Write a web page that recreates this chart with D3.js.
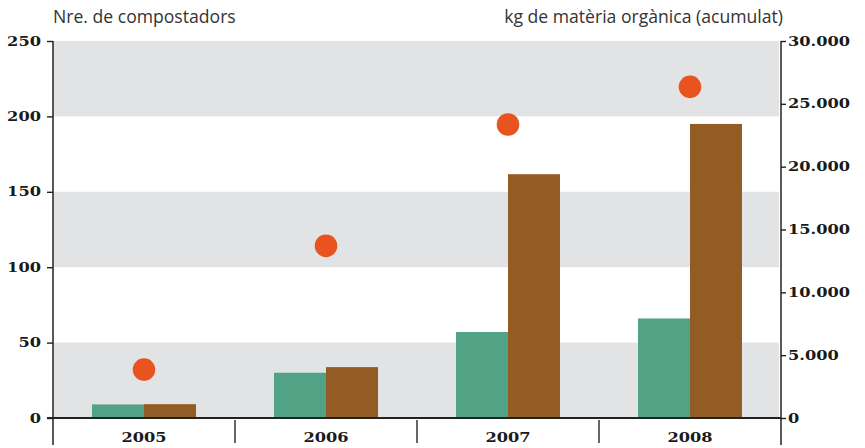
<!DOCTYPE html>
<html>
<head>
<meta charset="utf-8">
<script src="https://cdn.jsdelivr.net/npm/d3@7"></script>
<style>
  body { margin: 0; background: #fff; }
  .title { font-family: "Open Sans", sans-serif; font-size: 17.6px; fill: #333; }
  .num { font-family: "DejaVu Serif", serif; font-weight: bold; fill: #1a1a1a; }
</style>
</head>
<body>
<div id="chart"></div>
<script>
// chart data
var years = ["2005", "2006", "2007", "2008"];
var compostadors = [9, 30, 57, 66];          // left axis, green bars
var kgMateria = [1100, 4050, 19400, 23400];  // right axis, brown bars
var kgAcumulat = [3850, 13700, 23350, 26350]; // right axis, orange dots
var leftTicks = [0, 50, 100, 150, 200, 250];
var rightTicks = [0, 5000, 10000, 15000, 20000, 25000, 30000];

var width = 865,
  height = 448;

var left = 53,
  right = 781,
  topY = 41,
  base = 418;

var svg = d3
  .select("#chart")
  .append("svg")
  .attr("width", width)
  .attr("height", height);

var x = d3.scaleBand().domain(years).range([left, right]);
var inner = d3.scaleBand().domain(["g", "b"]).range([-52, 52]);
var yL = d3.scaleLinear().domain([0, 250]).range([base, topY]);
var yR = d3.scaleLinear().domain([0, 30000]).range([base, topY]);

var fmt = d3
  .formatLocale({ decimal: ",", thousands: ".", grouping: [3], currency: ["", ""] })
  .format(",");

//grey bands every other 50
svg
  .selectAll("rect.band")
  .data(leftTicks.filter(function(t, i) { return i % 2 == 0 && t < 250; }))
  .enter()
  .append("rect")
  .attr("class", "band")
  .attr("x", left)
  .attr("width", right - left - 2)
  .attr("y", function(t) { return yL(t + 50); })
  .attr("height", function(t) { return yL(t) - yL(t + 50); })
  .attr("fill", "#e2e3e5");

//bars
var cx = function(i) { return x(years[i]) + x.bandwidth() / 2; };

svg
  .selectAll("rect.green")
  .data(compostadors)
  .enter()
  .append("rect")
  .attr("x", function(d, i) { return cx(i) + inner("g"); })
  .attr("width", inner.bandwidth())
  .attr("y", function(d) { return yL(d); })
  .attr("height", function(d) { return base - yL(d); })
  .attr("fill", "#52a386");

svg
  .selectAll("rect.brown")
  .data(kgMateria)
  .enter()
  .append("rect")
  .attr("x", function(d, i) { return cx(i) + inner("b"); })
  .attr("width", inner.bandwidth())
  .attr("y", function(d) { return yR(d); })
  .attr("height", function(d) { return base - yR(d); })
  .attr("fill", "#935c24");

svg
  .selectAll("circle.dot")
  .data(kgAcumulat)
  .enter()
  .append("circle")
  .attr("cx", function(d, i) { return cx(i); })
  .attr("cy", function(d) { return yR(d); })
  .attr("r", 11.3)
  .attr("fill", "#e8531f");

//axes
var axisL = svg
  .append("g")
  .attr("transform", "translate(" + left + ",0)")
  .call(d3.axisLeft(yL).tickValues(leftTicks).tickSize(6).tickPadding(6));

var axisR = svg
  .append("g")
  .attr("transform", "translate(" + right + ",0)")
  .call(d3.axisRight(yR).tickValues(rightTicks).tickSize(5).tickFormat(fmt).tickPadding(2));

[axisL, axisR].forEach(function(a) {
  a.select(".domain").remove();
  a.selectAll("line").attr("stroke", "#222").attr("stroke-width", 1.4);
  a.selectAll("text").attr("class", "num").style("font-size", "12.5px").attr("font-family", null);
});

//stretch the labels, the original font is very wide
[axisL, axisR].forEach(function(a) {
  a.selectAll("text").each(function() {
    var t = d3.select(this);
    var tx = +t.attr("x");
    t.attr("x", tx / 1.3).attr("transform", "scale(1.3,1)");
  });
});

//axis lines
svg.append("line")
  .attr("x1", left).attr("x2", left)
  .attr("y1", topY).attr("y2", 445)
  .attr("stroke", "#222").attr("stroke-width", 1.5);
svg.append("line")
  .attr("x1", right).attr("x2", right)
  .attr("y1", topY).attr("y2", 445)
  .attr("stroke", "#222").attr("stroke-width", 1.5);
svg.append("line")
  .attr("x1", left - 6).attr("x2", right)
  .attr("y1", base).attr("y2", base)
  .attr("stroke", "#222").attr("stroke-width", 1.8);

//category dividers
svg
  .selectAll("line.div")
  .data(years.slice(1))
  .enter()
  .append("line")
  .attr("x1", function(d) { return x(d); })
  .attr("x2", function(d) { return x(d); })
  .attr("y1", base + 2)
  .attr("y2", 443)
  .attr("stroke", "#333")
  .attr("stroke-width", 1.5);

//year labels
svg
  .selectAll("text.year")
  .data(years)
  .enter()
  .append("text")
  .attr("class", "num")
  .style("font-size", "13.5px")
  .attr("text-anchor", "middle")
  .attr("transform", function(d) {
    return "translate(" + (x(d) + x.bandwidth() / 2) + ",441.5) scale(1.2,1)";
  })
  .text(function(d) { return d; });

//titles
svg.append("text").attr("class", "title")
  .attr("x", left).attr("y", 22.5)
  .text("Nre. de compostadors");
svg.append("text").attr("class", "title")
  .attr("x", 783).attr("y", 22.5)
  .attr("text-anchor", "end")
  .text("kg de matèria orgànica (acumulat)");
</script>
</body>
</html>
